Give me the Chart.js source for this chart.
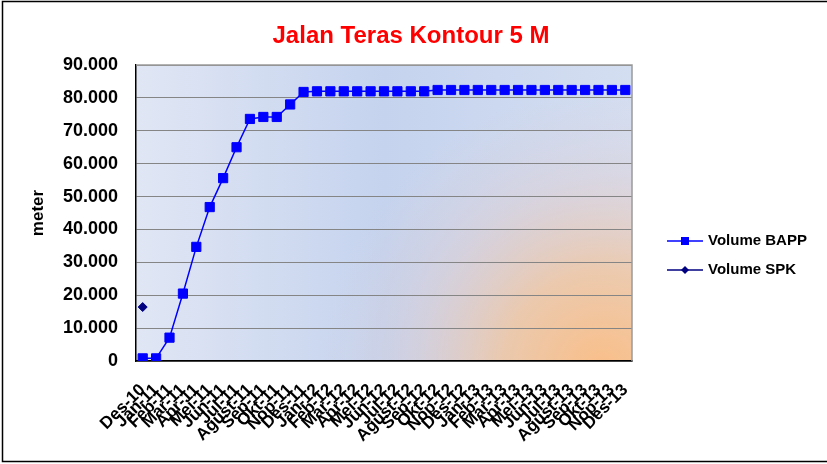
<!DOCTYPE html>
<html>
<head>
<meta charset="utf-8">
<script src="https://cdn.jsdelivr.net/npm/chart.js@4"></script>
<style>
  body { margin: 0; background: #fff; }
  #wrap { width: 827px; height: 464px; }
</style>
</head>
<body>
<div id="wrap"><canvas id="grafik" width="827" height="464"></canvas></div>
<script>
const bulan = [
  'Des-10',
  'Jan-11', 'Feb-11', 'Mar-11', 'Apr-11', 'Mei-11', 'Jun-11', 'Jul-11', 'Agust-11', 'Sep-11', 'Okt-11', 'Nop-11', 'Des-11',
  'Jan-12', 'Feb-12', 'Mar-12', 'Apr-12', 'Mei-12', 'Jun-12', 'Jul-12', 'Agust-12', 'Sep-12', 'Okt-12', 'Nop-12', 'Des-12',
  'Jan-13', 'Feb-13', 'Mar-13', 'Apr-13', 'Mei-13', 'Jun-13', 'Jul-13', 'Agust-13', 'Sep-13', 'Okt-13', 'Nop-13', 'Des-13'
];

const volumeBapp = [
  800,
  800, 7100, 20500, 34700, 46800, 55600, 65000, 73600, 74200, 74200, 78000, 81800,
  82000, 82000, 82000, 82000, 82000, 82000, 82000, 82000, 82000, 82400, 82400, 82400,
  82400, 82400, 82400, 82400, 82400, 82400, 82400, 82400, 82400, 82400, 82400, 82400
];

const volumeSpk = [16400].concat(new Array(36).fill(null));

const judul = 'Jalan Teras Kontour 5 M';
const judulSumbuY = 'meter';

const fontUtama = 'Arial, "Liberation Sans", sans-serif';

// latar area plot + bingkai luar
const latarPlot = {
  id: 'latarPlot',
  beforeDraw(chart) {
    const ctx = chart.ctx;
    const a = chart.chartArea;
    ctx.save();
    ctx.fillStyle = '#fff';
    ctx.fillRect(0, 0, chart.width, chart.height);

    const lin = ctx.createLinearGradient(a.left, 0, a.right, 0);
    lin.addColorStop(0, '#e0e6f4');
    lin.addColorStop(0.5, '#c5d3ee');
    lin.addColorStop(1, '#d4def1');
    ctx.fillStyle = lin;
    ctx.fillRect(a.left, a.top, a.right - a.left, a.bottom - a.top);

    const rad = ctx.createRadialGradient(a.right - 30, a.bottom + 10, 0, a.right - 30, a.bottom + 10, 280);
    rad.addColorStop(0, 'rgba(250,190,135,1)');
    rad.addColorStop(0.35, 'rgba(245,195,150,0.75)');
    rad.addColorStop(0.7, 'rgba(230,200,195,0.3)');
    rad.addColorStop(1, 'rgba(220,205,210,0)');
    ctx.fillStyle = rad;
    ctx.fillRect(a.left, a.top, a.right - a.left, a.bottom - a.top);
    ctx.restore();
  },
  afterDraw(chart) {
    const ctx = chart.ctx;
    const a = chart.chartArea;
    ctx.save();
    // tepi atas dan kanan area plot
    ctx.strokeStyle = '#9a9a9a';
    ctx.lineWidth = 1.5;
    ctx.beginPath();
    ctx.moveTo(a.left, a.top);
    ctx.lineTo(a.right, a.top);
    ctx.lineTo(a.right, a.bottom);
    ctx.stroke();

    // bingkai luar
    ctx.strokeStyle = '#000';
    ctx.lineWidth = 1.5;
    ctx.strokeRect(2.5, 1.5, 840, 460);

    // judul
    ctx.fillStyle = '#ff0000';
    ctx.font = 'bold 24px ' + fontUtama;
    ctx.textAlign = 'center';
    ctx.textBaseline = 'middle';
    ctx.fillText(judul, 411, 36);

    // legenda
    const item = [
      { ds: chart.data.datasets[0], y: 241 },
      { ds: chart.data.datasets[1], y: 270 }
    ];
    item.forEach(it => {
      ctx.strokeStyle = it.ds.borderColor;
      ctx.lineWidth = 1.5;
      ctx.beginPath();
      ctx.moveTo(667, it.y);
      ctx.lineTo(703, it.y);
      ctx.stroke();
      ctx.fillStyle = it.ds.pointBackgroundColor;
      ctx.beginPath();
      if (it.ds.pointStyle === 'rect') {
        ctx.rect(681, it.y - 4, 8, 8);
      } else {
        ctx.moveTo(685 - 4, it.y);
        ctx.lineTo(685, it.y - 4);
        ctx.lineTo(685 + 4, it.y);
        ctx.lineTo(685, it.y + 4);
        ctx.closePath();
      }
      ctx.fill();
      ctx.fillStyle = '#000';
      ctx.font = 'bold 15px ' + fontUtama;
      ctx.textAlign = 'left';
      ctx.textBaseline = 'middle';
      ctx.fillText(it.ds.label, 708, it.y);
    });
    ctx.restore();
  }
};

const ctx = document.getElementById('grafik').getContext('2d');
const grafik = new Chart(ctx, {
  type: 'line',
  data: {
    labels: bulan,
    datasets: [
      {
        label: 'Volume BAPP',
        data: volumeBapp,
        borderColor: '#0000ff',
        borderWidth: 1.5,
        pointStyle: 'rect',
        pointRadius: 6.5,
        pointBackgroundColor: '#0000ff',
        pointBorderColor: '#0000ff',
        pointBorderWidth: 1,
        tension: 0
      },
      {
        label: 'Volume SPK',
        data: volumeSpk,
        borderColor: '#000080',
        borderWidth: 1.5,
        pointStyle: 'rectRot',
        pointRadius: 4.5,
        pointBackgroundColor: '#000080',
        pointBorderColor: '#000080',
        pointBorderWidth: 1
      }
    ]
  },
  options: {
    responsive: false,
    animation: false,
    devicePixelRatio: 1,
    layout: { padding: { left: 24, top: 65, right: 195, bottom: 0 } },
    plugins: {
      legend: { display: false },
      title: { display: false },
      tooltip: { enabled: false }
    },
    scales: {
      x: {
        offset: true,
        grid: { display: false, drawTicks: false },
        border: { color: '#000', width: 1.5 },
        ticks: {
          autoSkip: false,
          maxRotation: 45,
          minRotation: 45,
          padding: 19,
          color: '#000',
          font: { family: fontUtama, size: 17, weight: 'bold' }
        },
        afterFit(scale) { scale.height = 103; }
      },
      y: {
        min: 0,
        max: 90000,
        grid: { color: '#858585', lineWidth: 1, drawTicks: false },
        border: { color: '#000', width: 1.5 },
        ticks: {
          stepSize: 10000,
          padding: 18,
          color: '#000',
          font: { family: fontUtama, size: 18, weight: 'bold' },
          callback: v => v.toLocaleString('de-DE')
        },
        title: {
          display: true,
          text: judulSumbuY,
          color: '#000',
          font: { family: fontUtama, size: 17, weight: 'bold' }
        },
        afterFit(scale) { scale.width = 112; }
      }
    }
  },
  plugins: [latarPlot]
});
</script>
</body>
</html>
